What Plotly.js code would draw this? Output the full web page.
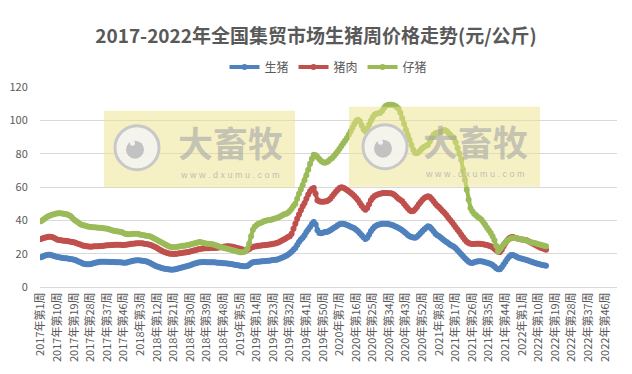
<!DOCTYPE html>
<html>
<head>
<meta charset="utf-8">
<script src="https://cdn.plot.ly/plotly-3.0.1.min.js"></script>
<style>html,body{margin:0;padding:0;background:#fff;}#chart{width:632px;height:374px;}</style>
</head>
<body>
<div id="chart"></div>
<script>
// Years and number of weeks per year for the category axis
const years = [2017, 2018, 2019, 2020, 2021, 2022];
const weeksPerYear = [52, 52, 52, 53, 52, 52];
const labelStep = 9;

const seriesNames = ['生猪', '猪肉', '仔猪'];

// 生猪 (live hog), 元/公斤, weekly from 2017年第1周
const hog = [
17.8,18.3,18.8,19.2,19.4,19.3,19.0,18.6,18.3,18.0,
17.8,17.6,17.4,17.3,17.2,17.0,16.8,16.6,16.4,16.0,
15.5,15.0,14.5,14.0,13.8,13.7,13.7,13.8,14.1,14.4,
14.7,14.9,15.1,15.2,15.2,15.1,15.1,15.0,15.0,15.0,
15.0,14.9,14.8,14.8,14.7,14.6,14.6,14.8,15.1,15.4,
15.7,15.9,16.0,16.0,15.9,15.7,15.6,15.4,15.0,14.5,
14.0,13.4,12.8,12.3,12.0,11.6,11.3,11.0,10.8,10.6,
10.5,10.4,10.5,10.7,11.0,11.3,11.6,11.9,12.2,12.4,
12.7,13.1,13.5,13.9,14.2,14.5,14.8,14.9,15.0,15.0,
14.9,14.9,14.8,14.8,14.8,14.7,14.6,14.5,14.4,14.3,
14.2,14.1,14.0,13.8,13.6,13.4,13.2,13.0,12.8,12.6,
12.5,12.4,12.6,13.3,14.2,14.8,15.0,15.1,15.2,15.3,
15.4,15.5,15.6,15.7,15.8,16.0,16.2,16.3,16.4,16.8,
17.2,17.7,18.2,18.8,19.4,20.2,21.2,22.3,23.4,25.2,
27.0,28.5,29.5,31.0,33.0,34.5,36.0,37.8,39.0,37.5,
34.0,32.4,32.2,32.6,33.0,33.0,33.4,34.0,34.8,35.5,
36.2,37.0,37.6,38.0,37.9,37.6,37.2,36.8,36.2,35.7,
35.2,34.4,33.4,32.2,31.0,29.8,28.8,29.6,31.4,33.4,
35.0,36.2,36.9,37.4,37.7,37.9,38.0,38.0,37.9,37.7,
37.4,37.0,36.5,36.0,35.4,34.8,34.0,33.2,32.2,31.2,
30.4,30.0,29.7,29.6,30.2,31.2,32.4,33.6,34.6,35.6,
36.4,36.0,34.8,33.4,32.0,31.0,30.4,29.6,28.6,27.8,
27.0,26.2,25.4,24.8,24.2,23.2,22.0,20.8,19.6,18.4,
17.2,16.2,15.2,14.6,14.4,14.8,15.2,15.4,15.5,15.4,
15.2,14.9,14.6,14.2,13.8,13.2,12.3,11.3,10.6,10.6,
11.8,13.5,15.2,16.8,18.2,19.2,19.2,18.7,18.1,17.6,
17.2,16.9,16.6,16.4,16.0,15.6,15.2,14.8,14.4,14.1,
13.8,13.5,13.2,13.0,12.8
];

// 猪肉 (pork)
const pork = [
28.8,29.2,29.6,29.9,30.1,30.2,30.0,29.5,29.0,28.4,
28.2,28.0,27.8,27.7,27.6,27.4,27.2,27.0,26.8,26.4,
26.0,25.6,25.2,24.8,24.6,24.4,24.3,24.2,24.3,24.4,
24.5,24.5,24.6,24.6,24.8,24.9,25.0,25.1,25.2,25.2,
25.3,25.3,25.3,25.3,25.2,25.2,25.3,25.5,25.7,25.9,
26.0,26.1,26.2,26.3,26.3,26.2,26.0,25.8,25.6,25.4,
25.0,24.5,24.0,23.4,22.7,22.0,21.4,21.0,20.6,20.3,
20.0,19.9,19.8,19.9,20.0,20.2,20.3,20.5,20.7,20.8,
21.0,21.3,21.6,21.9,22.2,22.5,22.8,23.0,23.1,23.2,
23.3,23.3,23.4,23.4,23.4,23.5,23.6,23.8,24.0,24.2,
24.3,24.4,24.4,24.3,24.1,23.9,23.6,23.3,23.0,22.6,
22.2,21.8,22.2,22.8,23.5,24.0,24.3,24.5,24.7,24.8,
25.0,25.1,25.2,25.3,25.5,25.7,25.9,26.1,26.4,26.9,
27.4,28.0,28.6,29.2,30.0,30.4,32.0,35.0,38.0,41.0,
43.5,46.0,48.5,50.4,53.0,55.5,57.5,58.8,59.4,56.0,
52.0,51.4,51.2,51.2,51.3,51.4,52.0,53.0,54.4,55.8,
57.2,58.4,59.4,59.8,59.6,59.0,58.2,57.4,56.6,55.6,
54.6,53.4,52.0,50.4,48.8,47.4,46.4,47.4,49.6,52.0,
53.6,54.6,55.2,55.7,56.0,56.2,56.4,56.4,56.4,56.3,
56.2,55.8,55.0,54.0,53.0,52.2,51.4,50.0,48.6,47.2,
46.0,45.4,45.6,46.6,48.0,49.6,51.0,52.4,53.4,54.0,
54.4,54.0,52.8,51.4,50.0,48.8,47.8,46.6,45.4,44.4,
43.0,41.6,40.2,38.8,37.4,35.8,34.4,33.0,31.4,29.8,
28.4,27.2,26.4,26.0,25.8,25.8,25.9,26.0,26.0,25.8,
25.6,25.4,25.2,24.8,24.4,23.8,23.0,22.0,21.2,21.0,
22.4,24.4,26.4,28.0,29.2,29.8,30.0,29.6,29.2,28.9,
28.7,28.5,28.4,28.2,27.8,27.2,26.6,26.0,25.4,24.8,
24.2,23.6,23.2,22.8,22.4
];

// 仔猪 (piglet)
const piglet = [
39.4,40.2,41.0,41.8,42.4,42.9,43.3,43.7,44.0,44.2,
44.3,44.2,44.0,43.8,43.6,43.2,42.6,41.6,40.4,39.6,
38.8,38.0,37.4,37.0,36.7,36.4,36.2,36.0,35.9,35.8,
35.7,35.6,35.5,35.4,35.3,35.1,35.0,34.6,34.2,33.9,
33.6,33.4,33.3,33.2,32.8,32.3,31.8,31.7,31.7,31.8,
31.9,32.0,32.0,31.8,31.4,31.2,31.0,30.8,30.6,30.4,
30.0,29.4,28.8,28.2,27.6,27.0,26.4,25.8,25.2,24.6,
24.2,23.9,23.8,23.9,24.1,24.3,24.5,24.7,24.8,25.0,
25.2,25.5,25.8,26.1,26.4,26.7,27.0,26.8,26.4,26.2,
26.0,25.9,25.8,25.6,25.4,25.0,24.6,24.2,23.8,23.4,
23.2,22.9,22.6,22.3,22.0,21.7,21.4,21.1,20.8,20.8,
21.0,21.4,23.0,26.0,30.4,34.4,36.2,37.2,37.9,38.4,
38.9,39.4,39.7,40.0,40.2,40.4,40.8,41.1,41.4,41.9,
42.4,43.0,43.6,44.0,44.6,45.6,47.0,48.6,50.0,53.0,
56.0,58.5,61.0,64.0,67.0,70.4,74.0,77.0,79.4,79.0,
78.0,76.8,75.6,74.8,74.6,74.8,75.6,76.6,77.4,78.6,
80.0,81.4,83.0,84.6,86.2,87.8,89.4,91.4,93.4,95.6,
97.8,99.6,100.4,99.4,97.0,94.6,93.4,95.0,97.4,99.8,
101.8,103.4,104.0,104.2,104.4,105.6,107.2,108.6,109.2,109.4,
109.4,109.2,108.8,108.0,107.0,104.6,101.2,97.8,94.4,91.2,
88.2,85.2,82.4,80.4,80.2,81.0,82.2,83.4,84.2,84.8,
85.4,87.4,89.6,91.4,92.2,92.6,92.8,93.0,93.8,94.2,
93.6,92.6,91.4,90.2,89.4,86.8,83.4,80.0,76.4,70.4,
64.4,58.4,52.4,47.4,45.4,44.0,43.0,42.0,41.2,40.4,
38.8,37.2,35.6,34.0,32.4,30.4,28.0,24.8,21.4,22.6,
24.2,25.6,26.8,27.8,28.6,29.2,29.4,29.4,29.2,29.0,
28.8,28.5,28.2,28.0,27.6,27.2,26.9,26.6,26.4,26.0,
25.6,25.3,25.0,24.7,24.4
];

// Build category labels
const categories = [];
years.forEach((y, k) => {
  for (let w = 1; w <= weeksPerYear[k]; w++) categories.push(y + '年第' + w + '周');
});
const tickLabels = categories.filter((c, i) => i % labelStep === 0);

const colors = ['#4f81bd', '#c0504d', '#9bbb59'];
const values = [hog, pork, piglet];
const traces = values.map((v, k) => ({
  type: 'scatter',
  mode: 'lines+markers',
  name: seriesNames[k],
  x: categories.slice(0, v.length),
  y: v,
  line: {color: colors[k], width: 4},
  marker: {color: colors[k], size: 6},
  hoverinfo: 'skip'
}));

const F = '"Microsoft YaHei", "Noto Sans CJK SC", sans-serif';
const grey = '#595959';

function px(x) { return (x - 40) / 577; }
function py(y) { return (287.3 - y) / 200; }

const wm = [
  {box: [104, 295, 111, 188], c: [137, 148], t: [230, 142], w: [230, 175]},
  {box: [349, 540, 107, 187], c: [385, 147], t: [475, 141], w: [475, 174]}
];
const shapes = [];
const annotations = [];
wm.forEach(m => {
  shapes.push({type: 'rect', xref: 'paper', yref: 'paper', layer: 'above',
    x0: px(m.box[0]), x1: px(m.box[1]), y0: py(m.box[3]), y1: py(m.box[2]),
    fillcolor: 'rgba(238,228,140,0.5)', line: {width: 0}});
  shapes.push({type: 'circle', xref: 'paper', yref: 'paper', layer: 'above',
    x0: px(m.c[0] - 22), x1: px(m.c[0] + 22), y0: py(m.c[1] + 22), y1: py(m.c[1] - 22),
    fillcolor: 'rgba(245,245,245,0.8)', line: {color: '#c8c8c8', width: 3}});
  shapes.push({type: 'circle', xref: 'paper', yref: 'paper', layer: 'above',
    x0: px(m.c[0] - 11), x1: px(m.c[0] + 7), y0: py(m.c[1] + 11), y1: py(m.c[1] - 7),
    fillcolor: '#c2c2c2', line: {width: 0}});
  shapes.push({type: 'circle', xref: 'paper', yref: 'paper', layer: 'above',
    x0: px(m.c[0] - 7), x1: px(m.c[0] - 2), y0: py(m.c[1] - 2), y1: py(m.c[1] - 7),
    fillcolor: '#f2f2f2', line: {width: 0}});
  annotations.push({xref: 'paper', yref: 'paper', x: px(m.t[0]), y: py(m.t[1]),
    xanchor: 'center', yanchor: 'middle',
    text: '<b>大畜牧</b>', showarrow: false, font: {family: F, size: 35, color: 'rgba(165,165,165,0.6)'}});
  annotations.push({xref: 'paper', yref: 'paper', x: px(m.w[0]), y: py(m.w[1]),
    xanchor: 'center', yanchor: 'middle',
    text: 'w w w . d x u m u . c o m', showarrow: false, font: {family: 'Arial, sans-serif', size: 9, color: 'rgba(165,165,165,0.7)'}});
});

const layout = {
  width: 632, height: 374,
  margin: {l: 40, r: 15, t: 87, b: 86.7},
  paper_bgcolor: '#ffffff', plot_bgcolor: '#ffffff',
  font: {family: F, color: grey, size: 11},
  title: {text: '<b>2017-2022年全国集贸市场生猪周价格走势(元/公斤)</b>', x: 0.5, xanchor: 'center',
    y: 1 - 36 / 374, yanchor: 'middle', yref: 'container', font: {family: F, size: 19, color: grey}},
  showlegend: true,
  legend: {orientation: 'h', x: 0.5, xanchor: 'center', y: 1.1, yanchor: 'middle',
    font: {family: F, size: 12, color: grey}, itemwidth: 30, tracegroupgap: 0},
  xaxis: {type: 'category', range: [-0.5, categories.length - 0.5], categoryorder: 'array', categoryarray: categories,
    tickmode: 'array', tickvals: tickLabels, ticktext: tickLabels, tickangle: -90,
    tickfont: {family: F, size: 11, color: grey}, showgrid: false, showline: true, linecolor: '#d9d9d9',
    ticks: '', zeroline: false, fixedrange: true},
  yaxis: {range: [0, 120], dtick: 20, tick0: 0, showgrid: true, gridcolor: '#d9d9d9', gridwidth: 1,
    zeroline: false, showline: false, ticks: 'outside', ticklen: 9, tickcolor: 'rgba(0,0,0,0)',
    tickfont: {family: F, size: 11, color: grey}, fixedrange: true},
  shapes: shapes,
  annotations: annotations
};

Plotly.newPlot('chart', traces, layout, {displayModeBar: false, staticPlot: true});
</script>
</body>
</html>
